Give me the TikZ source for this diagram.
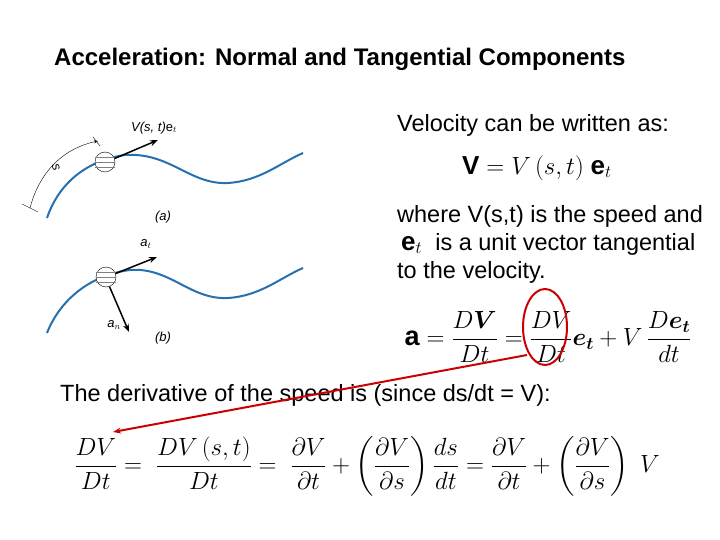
\documentclass[tikz,border=0pt]{standalone}
\usepackage{amsmath}
\usepackage{fontspec}
\setmainfont{Liberation Sans}
\usetikzlibrary{arrows.meta,shapes.geometric}
\definecolor{curveblue}{HTML}{2770B0}
\begin{document}
\begin{tikzpicture}[x=1pt,y=-1pt,
  curve/.style={draw=curveblue,line width=2pt},
  ball/.style={circle,draw,fill=white,minimum size=20pt,inner sep=0pt},
  vec/.style={-{Stealth[length=8pt,width=6pt]},line width=1.5pt},
  txt/.style={anchor=west,inner sep=0pt,font=\fontsize{23.5}{27}\selectfont},
  lbl/.style={inner sep=0pt,font=\fontsize{13}{15}\selectfont\itshape}]
\useasboundingbox (0,0) rectangle (720,540);
\node[txt,font=\fontsize{24}{28}\selectfont\bfseries] (title) at (54,59) {Acceleration: Normal and Tangential Components};
% figure a
\draw[curve] (47,218) .. controls (60,180) and (90,160) .. (125,155) .. controls (170,152) and (190,185) .. (228,183) .. controls (260,181) and (280,163) .. (303,153);
\node[ball] (ba) at (105,162) {};
\foreach \d in {-5,0,5} \draw[gray] ([yshift=\d pt]ba.west) -- ([yshift=\d pt]ba.east);
\coordinate (va) at (158,140);
\draw[vec] (ba.20) -- (va);
\node[lbl,anchor=south west] (vl) at (131,134) {V(s, t)\textup{e}$_t$};
\coordinate (s1) at (30,208); \coordinate (s2) at (98,141);
\draw[thin,-{Stealth[length=4pt]}] (s1) .. controls (40,170) and (65,148) .. (s2);
\draw (22,204) -- (38,212); \draw (93,137) -- (100,146);
\node[lbl,rotate=-70] (sl) at (56,167) {s};
\node[lbl] (la) at (163,217) {(a)};
% figure b
\draw[curve] (47,333) .. controls (60,300) and (90,275) .. (130,270) .. controls (170,267) and (190,300) .. (228,298) .. controls (260,296) and (280,278) .. (303,268);
\node[ball] (bb) at (106,277) {};
\foreach \d in {-5,0,5} \draw[gray] ([yshift=\d pt]bb.west) -- ([yshift=\d pt]bb.east);
\coordinate (at) at (157,257); \coordinate (an) at (129,332);
\draw[vec] (bb.20) -- (at);
\draw[vec] (bb.-70) -- (an);
\node[lbl] (atl) at (146,244) {a$_t$};
\node[lbl] (anl) at (114,325) {a$_n$};
\node[lbl] (lb) at (163,338) {(b)};
% right text
\node[txt] (t1) at (397,125) {Velocity can be written as:};
\node[inner sep=0pt,font=\fontsize{26}{30}\selectfont] (e1) at (537,168) {$\mathbf{V}=V\,(s,t)\;\mathbf{e}_t$};
\node[txt] (t2) at (397,216) {where V(s,t) is the speed and};
\node[txt] (t3) at (401,244) {\fontsize{26}{30}\selectfont$\mathbf{e}_t$\fontsize{23.5}{27}\selectfont\ \ is a unit vector tangential};
\node[txt] (t4) at (397,272) {to the velocity.};
\node[inner sep=0pt,font=\fontsize{27}{32}\selectfont] (e2) at (548,337) {$\mathbf{a}=\dfrac{D\boldsymbol{V}}{Dt}=\dfrac{DV}{Dt}\boldsymbol{e_t}+V\,\dfrac{D\boldsymbol{e_t}}{dt}$};
\node[txt] (t5) at (60,395) {The derivative of the speed is (since ds/dt = V):};
\node[inner sep=0pt,font=\fontsize{25}{30}\selectfont] (e3) at (367,466) {$\dfrac{DV}{Dt}=\;\dfrac{DV\,(s,t)}{Dt}=\;\dfrac{\partial V}{\partial t}+\left(\dfrac{\partial V}{\partial s}\right)\dfrac{ds}{dt}=\dfrac{\partial V}{\partial t}+\left(\dfrac{\partial V}{\partial s}\right)\;V$};
\node[draw=red!80!black,line width=2pt,ellipse,minimum width=44pt,minimum height=76pt,inner sep=0pt] (ell) at (545,327) {};
\coordinate (tip) at (113,432);
\draw[red!80!black,line width=2pt,-{Stealth[length=8pt,width=6pt]}] (527,355) -- (tip);
\end{tikzpicture}
\end{document}
